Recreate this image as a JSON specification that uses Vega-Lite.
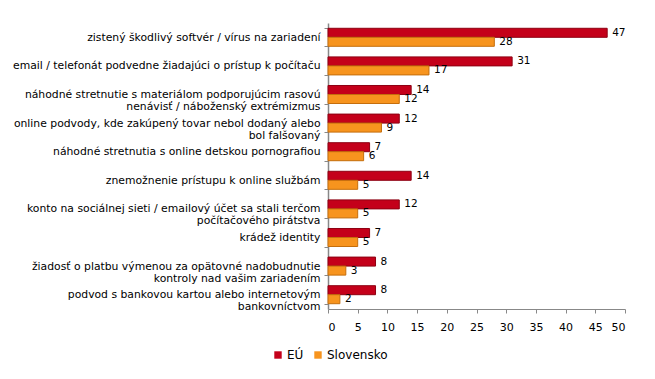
{
  "$schema": "https://vega.github.io/schema/vega-lite/v6.json",
  "width": 297,
  "height": 286,
  "padding": {"left": 12, "top": 17, "right": 5, "bottom": 5},
  "background": "white",
  "config": {
    "font": "DejaVu Sans",
    "view": {"stroke": null},
    "axis": {"labelFont": "DejaVu Sans", "labelColor": "#000000", "labelFontSize": 10.8},
    "legend": {"labelFont": "DejaVu Sans", "labelFontSize": 12, "labelColor": "#000000"}
  },
  "data": {
    "values": [
      {"kategoria": "zistený škodlivý softvér / vírus na zariadení", "skupina": "EÚ", "hodnota": 47},
      {"kategoria": "zistený škodlivý softvér / vírus na zariadení", "skupina": "Slovensko", "hodnota": 28},
      {"kategoria": "email / telefonát podvedne žiadajúci o prístup k počítaču", "skupina": "EÚ", "hodnota": 31},
      {"kategoria": "email / telefonát podvedne žiadajúci o prístup k počítaču", "skupina": "Slovensko", "hodnota": 17},
      {"kategoria": "náhodné stretnutie s materiálom podporujúcim rasovú|nenávisť / náboženský extrémizmus", "skupina": "EÚ", "hodnota": 14},
      {"kategoria": "náhodné stretnutie s materiálom podporujúcim rasovú|nenávisť / náboženský extrémizmus", "skupina": "Slovensko", "hodnota": 12},
      {"kategoria": "online podvody, kde zakúpený tovar nebol dodaný alebo|bol falšovaný", "skupina": "EÚ", "hodnota": 12},
      {"kategoria": "online podvody, kde zakúpený tovar nebol dodaný alebo|bol falšovaný", "skupina": "Slovensko", "hodnota": 9},
      {"kategoria": "náhodné stretnutia s online detskou pornografiou", "skupina": "EÚ", "hodnota": 7},
      {"kategoria": "náhodné stretnutia s online detskou pornografiou", "skupina": "Slovensko", "hodnota": 6},
      {"kategoria": "znemožnenie prístupu k online službám", "skupina": "EÚ", "hodnota": 14},
      {"kategoria": "znemožnenie prístupu k online službám", "skupina": "Slovensko", "hodnota": 5},
      {"kategoria": "konto na sociálnej sieti / emailový účet sa stali terčom|počítačového pirátstva", "skupina": "EÚ", "hodnota": 12},
      {"kategoria": "konto na sociálnej sieti / emailový účet sa stali terčom|počítačového pirátstva", "skupina": "Slovensko", "hodnota": 5},
      {"kategoria": "krádež identity", "skupina": "EÚ", "hodnota": 7},
      {"kategoria": "krádež identity", "skupina": "Slovensko", "hodnota": 5},
      {"kategoria": "žiadosť o platbu výmenou za opätovné nadobudnutie|kontroly nad vašim zariadením", "skupina": "EÚ", "hodnota": 8},
      {"kategoria": "žiadosť o platbu výmenou za opätovné nadobudnutie|kontroly nad vašim zariadením", "skupina": "Slovensko", "hodnota": 3},
      {"kategoria": "podvod s bankovou kartou alebo internetovým|bankovníctvom", "skupina": "EÚ", "hodnota": 8},
      {"kategoria": "podvod s bankovou kartou alebo internetovým|bankovníctvom", "skupina": "Slovensko", "hodnota": 2}
    ]
  },
  "encoding": {
    "y": {
      "field": "kategoria", "type": "nominal", "sort": null,
      "scale": {"paddingInner": 0.37, "paddingOuter": 0.185},
      "axis": {
        "title": null,
        "labelExpr": "split(datum.label, '|')",
        "labelLimit": 400,
        "labelLineHeight": 12,
        "tickBand": "extent",
        "tickSize": 4,
        "tickColor": "#888888",
        "domainColor": "#888888",
        "domainWidth": 1.5,
        "labelPadding": 4
      }
    },
    "yOffset": {"field": "skupina", "type": "nominal", "sort": ["EÚ", "Slovensko"], "scale": {"paddingInner": 0}},
    "x": {
      "field": "hodnota", "type": "quantitative",
      "scale": {"domain": [0, 50]},
      "axis": {
        "title": null, "values": [0,5,10,15,20,25,30,35,40,45,50],
        "grid": false, "tickSize": 4, "tickColor": "#888888", "domainColor": "#888888",
        "labelFontSize": 11, "labelPadding": 8
      }
    }
  },
  "layer": [
    {
      "mark": {"type": "bar", "strokeWidth": 1},
      "encoding": {
        "color": {
          "field": "skupina", "type": "nominal", "sort": ["EÚ", "Slovensko"],
          "scale": {"domain": ["EÚ", "Slovensko"], "range": ["#C4001A", "#F7941E"]},
          "legend": {"title": null, "orient": "none", "legendX": -56, "legendY": 326, "direction": "horizontal", "symbolType": "square", "symbolSize": 55, "symbolStrokeWidth": 0, "columnPadding": 8, "labelOffset": 3}
        },
        "stroke": {
          "field": "skupina", "type": "nominal",
          "scale": {"domain": ["EÚ", "Slovensko"], "range": ["#8E0012", "#C56E0C"]},
          "legend": null
        }
      }
    },
    {
      "mark": {"type": "text", "align": "left", "dx": 5, "fontSize": 10.5, "color": "#000000", "font": "DejaVu Sans"},
      "encoding": {"text": {"field": "hodnota", "type": "quantitative"}}
    }
  ]
}
